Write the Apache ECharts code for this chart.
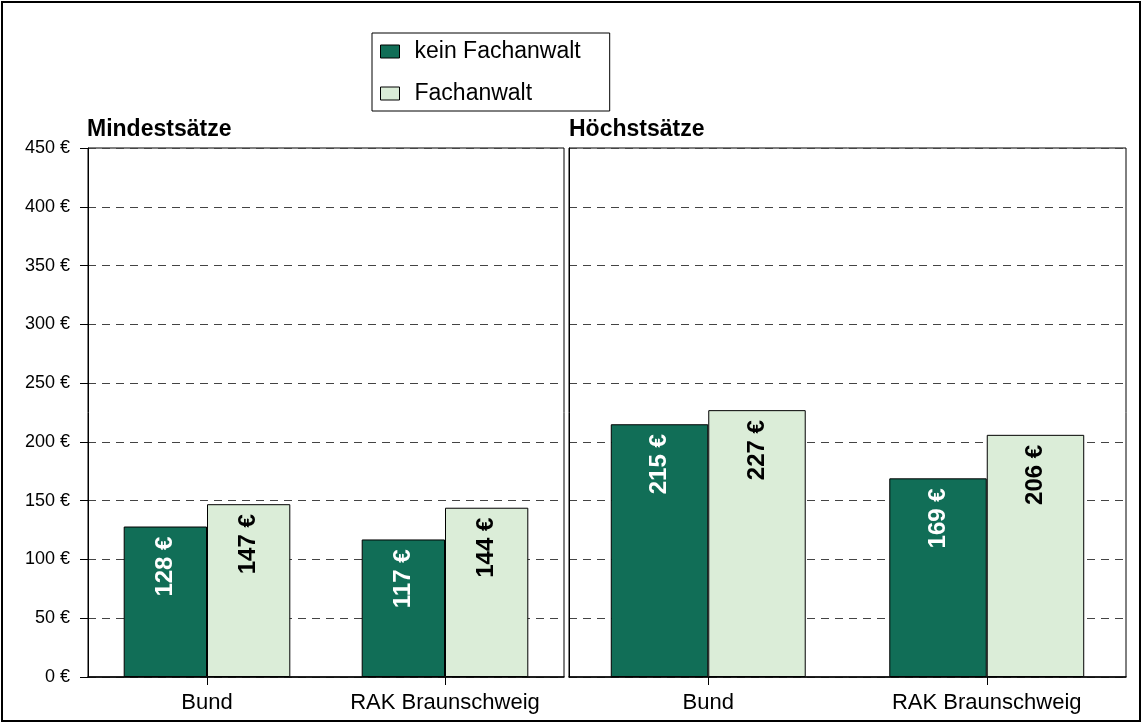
<!DOCTYPE html>
<html>
<head>
<meta charset="utf-8">
<script src="https://cdn.jsdelivr.net/npm/echarts@6/dist/echarts.min.js"></script>
<style>
html,body{margin:0;padding:0;background:#fff;}
#chart{width:1143px;height:724px;}
</style>
</head>
<body>
<div id="chart"></div>
<script>
const categories = ['Bund', 'RAK Braunschweig'];
const panelTitles = ['Mindestsätze', 'Höchstsätze'];
const seriesNames = ['kein Fachanwalt', 'Fachanwalt'];
const minKein = [128, 117];
const minFach = [147, 144];
const maxKein = [215, 169];
const maxFach = [227, 206];
const yMin = 0, yMax = 450, yStep = 50;

const FONT = 'Liberation Sans, Arial, sans-serif';
const DARK = '#116E57';
const LIGHT = '#DBEDD8';

const chart = echarts.init(document.getElementById('chart'), null, {renderer: 'canvas'});

function labelCfg(color) {
  return {
    show: true,
    position: 'insideTop',
    distance: 10,
    rotate: 90,
    align: 'right',
    verticalAlign: 'middle',
    color: color,
    fontFamily: FONT,
    fontWeight: 'bold',
    fontSize: 24,
    formatter: p => p.value + ' €'
  };
}

function bar(name, data, idx, color, labelColor) {
  return {
    name: name,
    type: 'bar',
    xAxisIndex: idx,
    yAxisIndex: idx,
    data: data,
    barGap: '0%',
    barCategoryGap: '30%',
    itemStyle: {color: color, borderColor: '#000', borderWidth: 1},
    label: labelCfg(labelColor),
    emphasis: {disabled: true},
    animation: false
  };
}

const splitLine = {show: true, lineStyle: {color: '#444', width: 1, type: [8, 6]}};

const xAxisBase = {
  type: 'category',
  data: categories,
  axisLine: {show: true, lineStyle: {color: '#000', width: 1.5}},
  axisTick: {show: true, alignWithLabel: true, interval: 0, length: 8, lineStyle: {color: '#000'}},
  axisLabel: {color: '#000', fontFamily: FONT, fontSize: 22, margin: 15, interval: 0, hideOverlap: false},
  splitLine: {show: false}
};

const option = {
  backgroundColor: '#fff',
  animation: false,
  title: [
    {text: panelTitles[0], left: 87, top: 118, padding: 0,
     textStyle: {fontFamily: FONT, fontWeight: 'bold', fontSize: 23, color: '#000'}},
    {text: panelTitles[1], left: 569, top: 118, padding: 0,
     textStyle: {fontFamily: FONT, fontWeight: 'bold', fontSize: 23, color: '#000'}}
  ],
  legend: {
    orient: 'vertical',
    left: 372,
    top: 33,
    data: seriesNames,
    icon: 'rect',
    itemWidth: 19,
    itemHeight: 13,
    itemGap: 19,
    padding: [7, 29, 6, 8],
    borderColor: '#000',
    borderWidth: 1,
    backgroundColor: '#fff',
    itemStyle: {borderColor: '#000', borderWidth: 1},
    textStyle: {fontFamily: FONT, fontSize: 23, color: '#000', padding: [0, 0, 0, 10]}
  },
  grid: [
    {left: 88, right: 1143 - 564, top: 148, bottom: 724 - 677, show: true, borderColor: '#000', borderWidth: 1},
    {left: 569, right: 1143 - 1126, top: 148, bottom: 724 - 677, show: true, borderColor: '#000', borderWidth: 1}
  ],
  xAxis: [
    Object.assign({gridIndex: 0}, xAxisBase),
    Object.assign({gridIndex: 1}, xAxisBase)
  ],
  yAxis: [
    {
      gridIndex: 0, type: 'value', min: yMin, max: yMax, interval: yStep,
      axisLine: {show: true, lineStyle: {color: '#000'}},
      axisTick: {show: true, length: 8, lineStyle: {color: '#000'}},
      axisLabel: {color: '#000', fontFamily: FONT, fontSize: 18, margin: 18, formatter: v => v + ' €'},
      splitLine: splitLine
    },
    {
      gridIndex: 1, type: 'value', min: yMin, max: yMax, interval: yStep,
      axisLine: {show: true, lineStyle: {color: '#000'}},
      axisTick: {show: false},
      axisLabel: {show: false},
      splitLine: splitLine
    }
  ],
  series: [
    bar(seriesNames[0], minKein, 0, DARK, '#fff'),
    bar(seriesNames[1], minFach, 0, LIGHT, '#000'),
    bar(seriesNames[0], maxKein, 1, DARK, '#fff'),
    bar(seriesNames[1], maxFach, 1, LIGHT, '#000')
  ],
  graphic: [
    {type: 'rect', silent: true, z: 100,
     shape: {x: 2, y: 2, width: 1138, height: 719},
     style: {fill: null, stroke: '#000', lineWidth: 2}}
  ]
};

chart.setOption(option);
</script>
</body>
</html>
